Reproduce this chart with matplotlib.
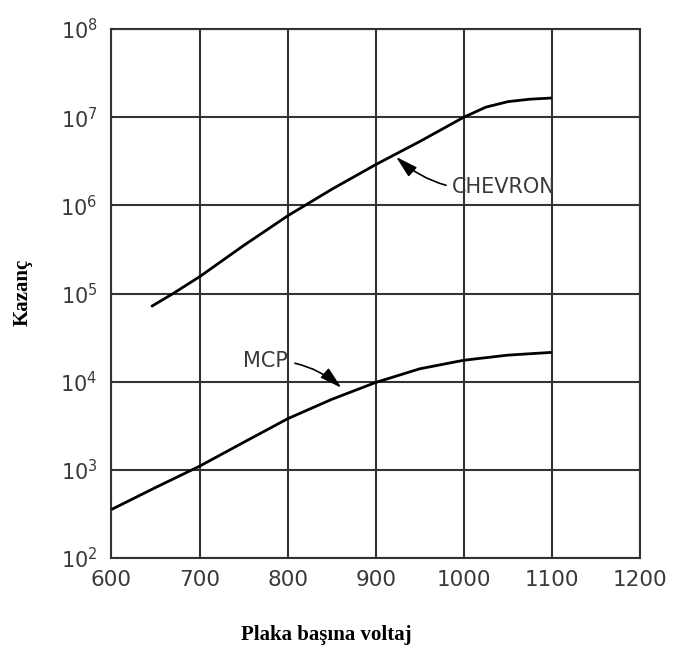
import matplotlib
matplotlib.use("Agg")
import matplotlib.pyplot as plt
import numpy as np

# Kazanç eğrileri (plaka başına voltaj, V)
chevron_v = [645, 670, 700, 750, 800, 850, 900, 950, 1000, 1025, 1050, 1075, 1100]
chevron_gain = [7.1e4, 1.0e5, 1.55e5, 3.5e5, 7.6e5, 1.52e6, 2.9e6, 5.3e6,
                1.0e7, 1.3e7, 1.5e7, 1.6e7, 1.65e7]

mcp_v = [600, 650, 700, 750, 800, 850, 900, 950, 1000, 1050, 1100]
mcp_gain = [355, 630, 1.1e3, 2.05e3, 3.8e3, 6.3e3, 9.8e3, 1.4e4, 1.75e4, 2.0e4, 2.15e4]

x_ticks = [600, 700, 800, 900, 1000, 1100, 1200]
y_exps = [2, 3, 4, 5, 6, 7, 8]

grid_col = "#333333"
text_col = "#3a3a3a"

fig = plt.figure(figsize=(6.79, 6.55), dpi=100)
ax = fig.add_axes([0.1642, 0.1481, 0.7784, 0.8076])

ax.set_yscale("log")
ax.set_xlim(600, 1200)
ax.set_ylim(1e2, 1e8)

ax.set_xticks(x_ticks)
ax.set_xticklabels([str(t) for t in x_ticks])
ax.set_yticks([10.0 ** e for e in y_exps])
ax.set_yticklabels([r"$\mathregular{10^{%d}}$" % e for e in y_exps])
ax.yaxis.set_minor_locator(matplotlib.ticker.NullLocator())
ax.tick_params(axis="x", length=0, pad=9, labelsize=15.5, colors=text_col)
ax.tick_params(axis="y", length=0, pad=10, labelsize=15, colors=text_col)

ax.grid(True, which="major", color=grid_col, lw=1.5)
for s in ax.spines.values():
    s.set_color(grid_col)
    s.set_linewidth(1.5)

ax.plot(chevron_v, chevron_gain, color="black", lw=2.0, solid_joinstyle="round",
        solid_capstyle="butt", zorder=3)
ax.plot(mcp_v, mcp_gain, color="black", lw=2.0, solid_joinstyle="round",
        solid_capstyle="butt", zorder=3)

# etiketler ve oklar
ax.annotate("CHEVRON", xy=(923, 10 ** 6.55), xytext=(986, 10 ** 6.21),
            ha="left", va="center", fontsize=15, color=text_col,
            arrowprops=dict(arrowstyle="-|>,head_length=0.9,head_width=0.25",
                            color="black", lw=1.2, shrinkA=2, shrinkB=0,
                            connectionstyle="arc3,rad=-0.25"))
ax.annotate("MCP", xy=(861, 10 ** 3.93), xytext=(775, 10 ** 4.24),
            ha="center", va="center", fontsize=15, color=text_col,
            arrowprops=dict(arrowstyle="-|>,head_length=0.9,head_width=0.25",
                            color="black", lw=1.2, shrinkA=3, shrinkB=0,
                            connectionstyle="arc3,rad=-0.2"))

fig.text(0.034, 0.553, "Kazanç", rotation=90, ha="center", va="center",
         fontsize=15, fontweight="bold", family="Liberation Serif")
fig.text(0.480, 0.0305, "Plaka başına voltaj", ha="center", va="center",
         fontsize=15, fontweight="bold", family="Liberation Serif")

fig.savefig("out.png", dpi=100, facecolor="white")
